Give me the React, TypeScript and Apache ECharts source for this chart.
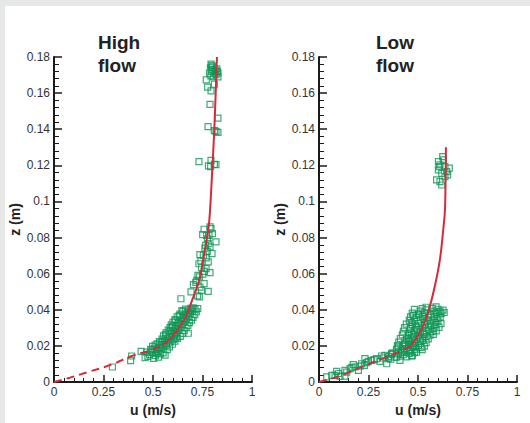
import React, { useEffect, useRef } from "react";
import * as echarts from "echarts";

// ---- Data (u in m/s, z in m) ----
const highFlowPoints: number[][] = [
  // upper cluster
  [0.793, 0.176], [0.797, 0.1752], [0.79, 0.174], [0.802, 0.173], [0.796, 0.172], [0.786, 0.171],
  [0.812, 0.171], [0.825, 0.172], [0.818, 0.1702], [0.828, 0.1712], [0.806, 0.169], [0.828, 0.169],
  [0.8, 0.1745], [0.815, 0.1728], [0.822, 0.1735], [0.792, 0.1695],
  [0.769, 0.1673], [0.776, 0.1633], [0.793, 0.1612], [0.81, 0.1649], [0.788, 0.1538],
  [0.828, 0.1461], [0.778, 0.1414], [0.81, 0.1392], [0.828, 0.1383], [0.818, 0.1388],
  [0.732, 0.1221], [0.793, 0.1228], [0.78, 0.1197], [0.791, 0.1193], [0.818, 0.1204], [0.81, 0.1206],
  // middle
  [0.758, 0.0846], [0.788, 0.0859], [0.793, 0.0849], [0.751, 0.0816], [0.771, 0.0812], [0.8, 0.0822],
  [0.818, 0.0776], [0.779, 0.0766], [0.766, 0.0757], [0.788, 0.0748], [0.774, 0.0724], [0.737, 0.0706],
  [0.754, 0.0702], [0.798, 0.0711], [0.732, 0.0655], [0.779, 0.0665], [0.768, 0.0628], [0.788, 0.0606],
  [0.759, 0.0613], [0.734, 0.0582], [0.721, 0.0563], [0.758, 0.0545], [0.704, 0.0539], [0.737, 0.0526],
  [0.779, 0.0502], [0.692, 0.0499], [0.725, 0.0477], [0.734, 0.0471], [0.641, 0.0461],
  [0.775, 0.0792], [0.762, 0.0741], [0.745, 0.0633], [0.751, 0.0598], [0.727, 0.0591],
  [0.783, 0.0812], [0.769, 0.0688], [0.742, 0.0671], [0.716, 0.0552], [0.745, 0.0508],
  // dense lower band
  [0.46, 0.0135], [0.503, 0.0131], [0.528, 0.0138], [0.387, 0.0118], [0.392, 0.0144], [0.295, 0.0083],
  [0.44, 0.017], [0.482, 0.0152], [0.512, 0.0148], [0.538, 0.0155], [0.561, 0.0149],
  [0.468, 0.0166], [0.497, 0.0163], [0.526, 0.0168], [0.551, 0.0161],
  [0.488, 0.0181], [0.517, 0.0178], [0.543, 0.0184], [0.572, 0.0179], [0.506, 0.0187],
  [0.498, 0.0197], [0.532, 0.0193], [0.556, 0.0199], [0.583, 0.0194],
  [0.521, 0.0211], [0.547, 0.0207], [0.569, 0.0214], [0.598, 0.0209],
  [0.532, 0.0224], [0.558, 0.0228], [0.587, 0.0221], [0.611, 0.0226],
  [0.546, 0.0238], [0.571, 0.0243], [0.603, 0.0236], [0.624, 0.0241],
  [0.553, 0.0256], [0.582, 0.0251], [0.608, 0.0258], [0.638, 0.0253], [0.678, 0.027],
  [0.566, 0.0272], [0.593, 0.0268], [0.621, 0.0274], [0.651, 0.0269],
  [0.577, 0.0287], [0.604, 0.0283], [0.632, 0.0289], [0.658, 0.0284],
  [0.586, 0.0301], [0.613, 0.0297], [0.642, 0.0304], [0.667, 0.0299],
  [0.592, 0.0316], [0.622, 0.0312], [0.648, 0.0318], [0.676, 0.0313],
  [0.601, 0.0331], [0.628, 0.0327], [0.661, 0.0334], [0.684, 0.0329],
  [0.611, 0.0346], [0.641, 0.0342], [0.669, 0.0348], [0.694, 0.0343],
  [0.622, 0.0361], [0.652, 0.0357], [0.681, 0.0364], [0.702, 0.0358],
  [0.636, 0.0376], [0.662, 0.0372], [0.688, 0.0378], [0.711, 0.0373],
  [0.651, 0.0391], [0.679, 0.0387], [0.699, 0.0393], [0.719, 0.0389],
  [0.664, 0.0404], [0.691, 0.0408], [0.712, 0.0402], [0.726, 0.0407],
  [0.474, 0.0142], [0.519, 0.0159], [0.492, 0.0172], [0.531, 0.0186], [0.566, 0.0203],
  [0.511, 0.0205], [0.541, 0.0219], [0.577, 0.0232], [0.594, 0.0247], [0.563, 0.0262],
  [0.614, 0.0266], [0.586, 0.0279], [0.626, 0.0295], [0.598, 0.0308], [0.636, 0.0322],
  [0.612, 0.0338], [0.654, 0.0352], [0.632, 0.0368], [0.672, 0.0383], [0.646, 0.0396],
  [0.703, 0.0411], [0.682, 0.0399], [0.657, 0.0336], [0.618, 0.0249],
];

const lowFlowPoints: number[][] = [
  // upper cluster
  [0.625, 0.1248], [0.603, 0.1221], [0.611, 0.1202], [0.636, 0.1193], [0.658, 0.1184], [0.603, 0.1175],
  [0.645, 0.1165], [0.62, 0.1156], [0.65, 0.1147], [0.594, 0.1119], [0.611, 0.111], [0.62, 0.1091],
  [0.636, 0.1138], [0.628, 0.123], [0.607, 0.1193],
  // lower tail
  [0.039, 0.0028], [0.064, 0.0037], [0.089, 0.0059], [0.081, 0.0037], [0.106, 0.0031], [0.131, 0.0033],
  [0.14, 0.0055], [0.131, 0.0064], [0.157, 0.0074], [0.173, 0.0096], [0.182, 0.0083], [0.207, 0.0088],
  [0.199, 0.0064], [0.215, 0.0101], [0.232, 0.0129], [0.229, 0.0092], [0.249, 0.0114], [0.266, 0.012],
  [0.291, 0.0129], [0.308, 0.0114], [0.316, 0.0144], [0.333, 0.0148], [0.342, 0.0101], [0.35, 0.0129],
  [0.367, 0.0157], [0.392, 0.0138], [0.409, 0.012], [0.418, 0.0166], [0.401, 0.0194], [0.434, 0.0185],
  [0.451, 0.024], [0.468, 0.0144], [0.476, 0.0203], [0.493, 0.0166],
  [0.098, 0.0047], [0.166, 0.0081], [0.241, 0.0107], [0.279, 0.0124], [0.325, 0.0133], [0.362, 0.0126],
  // dense band
  [0.352, 0.0141], [0.383, 0.0137], [0.412, 0.0143], [0.443, 0.0139], [0.471, 0.0146],
  [0.372, 0.0162], [0.403, 0.0158], [0.431, 0.0164], [0.457, 0.0159], [0.482, 0.0163],
  [0.391, 0.0181], [0.414, 0.0177], [0.442, 0.0184], [0.463, 0.0178], [0.491, 0.0182], [0.521, 0.0179],
  [0.396, 0.0201], [0.423, 0.0197], [0.452, 0.0204], [0.472, 0.0198], [0.503, 0.0202], [0.532, 0.0199],
  [0.403, 0.0221], [0.432, 0.0217], [0.456, 0.0224], [0.482, 0.0219], [0.512, 0.0223], [0.541, 0.0218],
  [0.411, 0.0241], [0.442, 0.0237], [0.466, 0.0244], [0.491, 0.0238], [0.522, 0.0242], [0.552, 0.0239],
  [0.421, 0.0261], [0.451, 0.0257], [0.477, 0.0263], [0.502, 0.0258], [0.531, 0.0262], [0.561, 0.0259], [0.578, 0.0264],
  [0.426, 0.0281], [0.456, 0.0277], [0.481, 0.0284], [0.512, 0.0278], [0.541, 0.0282], [0.571, 0.0279], [0.592, 0.0283],
  [0.432, 0.0301], [0.461, 0.0297], [0.492, 0.0304], [0.521, 0.0298], [0.552, 0.0302], [0.581, 0.0299], [0.606, 0.0303],
  [0.441, 0.0321], [0.472, 0.0317], [0.501, 0.0324], [0.532, 0.0318], [0.562, 0.0322], [0.591, 0.0319], [0.616, 0.0323],
  [0.456, 0.0341], [0.481, 0.0337], [0.512, 0.0344], [0.546, 0.0338], [0.576, 0.0342], [0.601, 0.0339],
  [0.462, 0.0361], [0.491, 0.0357], [0.522, 0.0364], [0.551, 0.0358], [0.582, 0.0362], [0.612, 0.0359],
  [0.471, 0.0381], [0.502, 0.0377], [0.531, 0.0384], [0.562, 0.0378], [0.592, 0.0382], [0.617, 0.0379], [0.632, 0.0385],
  [0.482, 0.0402], [0.521, 0.0406], [0.546, 0.0399], [0.572, 0.0408], [0.601, 0.0403], [0.626, 0.0398],
  [0.367, 0.0152], [0.425, 0.0151], [0.455, 0.0171], [0.478, 0.0191], [0.516, 0.0191], [0.437, 0.0209],
  [0.488, 0.0211], [0.526, 0.0231], [0.451, 0.0229], [0.506, 0.0249], [0.541, 0.0251], [0.466, 0.0271],
  [0.526, 0.0271], [0.556, 0.0289], [0.496, 0.0291], [0.566, 0.0311], [0.486, 0.0311], [0.536, 0.0331],
  [0.586, 0.0331], [0.466, 0.0329], [0.531, 0.0351], [0.596, 0.0351], [0.476, 0.0369], [0.566, 0.0371],
  [0.511, 0.0393], [0.581, 0.0392], [0.611, 0.0391], [0.541, 0.0414], [0.591, 0.0416], [0.506, 0.0371],
];

const highFitDashed: number[][] = [
  [0, 0], [0.08, 0.0024], [0.17, 0.0055], [0.29, 0.0096], [0.39, 0.0143], [0.5, 0.018], [0.55, 0.0205],
];
const highFitSolid: number[][] = [
  [0.55, 0.0205], [0.6, 0.0255], [0.66, 0.035], [0.7, 0.046], [0.735, 0.057], [0.757, 0.07],
  [0.78, 0.085], [0.788, 0.095], [0.8, 0.119], [0.81, 0.141], [0.823, 0.18],
];
const lowFitDashed: number[][] = [
  [0, 0], [0.115, 0.0037], [0.232, 0.0092], [0.333, 0.0135], [0.418, 0.0175], [0.468, 0.0203],
];
const lowFitSolid: number[][] = [
  [0.468, 0.0203], [0.519, 0.0295], [0.552, 0.0388], [0.586, 0.0536], [0.611, 0.068],
  [0.628, 0.085], [0.636, 0.095], [0.639, 0.11], [0.641, 0.13],
];

const panelTitles = ["High\nflow", "Low\nflow"];
const xTitle = "u (m/s)";
const yTitle = "z (m)";

const FONT = "'Liberation Sans', Arial, Helvetica, sans-serif";
const GREEN = "#0e9656";
const RED = "#d42a3a";
const AXIS = "#1a1a1a";

export default function App() {
  const ref = useRef<HTMLDivElement>(null);
  useEffect(() => {
    if (!ref.current) return;
    const chart = echarts.init(ref.current, undefined, { renderer: "svg" });
    const grids = [
      { left: 54, top: 57, width: 198, height: 325 },
      { left: 319, top: 57, width: 198, height: 325 },
    ];
    const xAxis = grids.map((_, i) => ({
      type: "value",
      gridIndex: i,
      min: 0,
      max: 1,
      interval: 0.25,
      name: xTitle,
      nameLocation: "middle",
      nameGap: 21,
      nameTextStyle: { fontFamily: FONT, fontSize: 14, fontWeight: "bold", color: "#222" },
      axisLine: { show: true, onZero: false, lineStyle: { color: AXIS, width: 2 } },
      axisTick: { show: true, inside: true, length: 7, lineStyle: { color: AXIS, width: 1.5 } },
      minorTick: { show: true, splitNumber: 5, length: 4, lineStyle: { color: AXIS, width: 1 } },
      splitLine: { show: false },
      axisLabel: {
        fontFamily: FONT, fontSize: 12, color: "#333", margin: 4,
        formatter: (v: number) => String(+v.toFixed(2)),
      },
    }));
    const yAxis = grids.map((_, i) => ({
      type: "value",
      gridIndex: i,
      min: 0,
      max: 0.18,
      interval: 0.02,
      name: yTitle,
      nameLocation: "middle",
      nameRotate: 90,
      nameGap: 32,
      nameTextStyle: { fontFamily: FONT, fontSize: 14, fontWeight: "bold", color: "#222" },
      axisLine: { show: true, onZero: false, lineStyle: { color: AXIS, width: 2 } },
      axisTick: { show: true, inside: true, length: 8, lineStyle: { color: AXIS, width: 1.5 } },
      minorTick: { show: true, splitNumber: 5, length: 5, lineStyle: { color: AXIS, width: 1 } },
      splitLine: { show: false },
      axisLabel: {
        fontFamily: FONT, fontSize: 12, color: "#333", margin: 4,
        formatter: (v: number) => String(+v.toFixed(2)),
      },
    }));
    const scatter = (data: number[][], i: number) => ({
      type: "scatter",
      xAxisIndex: i,
      yAxisIndex: i,
      data,
      symbol: "rect",
      symbolSize: 6,
      itemStyle: { color: "rgba(0,0,0,0)", borderColor: GREEN, borderWidth: 1.2 },
      z: 2,
    });
    const line = (data: number[][], i: number, dashed: boolean) => ({
      type: "line",
      xAxisIndex: i,
      yAxisIndex: i,
      data,
      smooth: 0.4,
      showSymbol: false,
      symbol: "none",
      lineStyle: { color: RED, width: 2, type: dashed ? [8, 5] : "solid" },
      z: 3,
    });
    chart.setOption({
      animation: false,
      backgroundColor: "transparent",
      title: [
        {
          text: panelTitles[0], left: 98, top: 31, padding: 0,
          textStyle: { fontFamily: FONT, fontSize: 19, fontWeight: "bold", color: "#222", lineHeight: 23 },
        },
        {
          text: panelTitles[1], left: 376, top: 31, padding: 0,
          textStyle: { fontFamily: FONT, fontSize: 19, fontWeight: "bold", color: "#222", lineHeight: 23 },
        },
      ],
      grid: grids,
      xAxis,
      yAxis,
      series: [
        scatter(highFlowPoints, 0),
        scatter(lowFlowPoints, 1),
        line(highFitDashed, 0, true),
        line(highFitSolid, 0, false),
        line(lowFitDashed, 1, true),
        line(lowFitSolid, 1, false),
      ],
    });
    return () => chart.dispose();
  }, []);
  return (
    <div style={{ position: "fixed", left: 0, top: 0, width: 530, height: 423, background: "#e6e8e7" }}>
      <div style={{ position: "absolute", left: 5, top: 6, width: 525, height: 417, background: "#ffffff" }} />
      <div ref={ref} style={{ position: "absolute", left: 0, top: 0, width: 530, height: 423 }} />
    </div>
  );
}
